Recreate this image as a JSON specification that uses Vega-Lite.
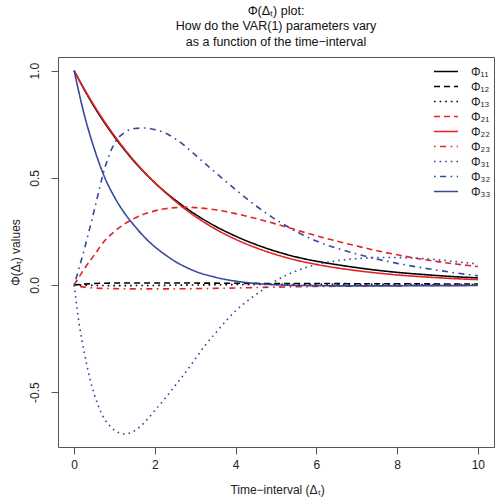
{
  "$schema": "https://vega.github.io/schema/vega-lite/v6.json",
  "width": 436,
  "height": 390,
  "autosize": "none",
  "padding": {"left": 58, "top": 57, "right": 1, "bottom": 53},
  "title": {
    "text": ["Φ(Δₜ) plot:", "How do the VAR(1) parameters vary", "as a function of the time−interval"],
    "fontSize": 12.5,
    "fontWeight": "normal",
    "font": "Liberation Sans",
    "lineHeight": 15.5,
    "anchor": "middle",
    "frame": "group",
    "offset": 9,
    "color": "#111"
  },
  "config": {
    "view": {"stroke": "#555", "strokeWidth": 1},
    "font": "Liberation Sans",
    "axis": {
      "domain": false,
      "grid": false,
      "tickSize": 7,
      "tickColor": "#555",
      "tickWidth": 1,
      "labelFontSize": 12,
      "labelColor": "#222",
      "labelFont": "Liberation Sans",
      "titleFont": "Liberation Sans",
      "titleFontSize": 12,
      "titleFontWeight": "normal",
      "titleColor": "#222",
      "labelFlush": false,
      "labelOverlap": false
    }
  },
  "data": {
    "values": [
      {"series": "Φ₁₁", "t": 0, "v": 1}, {"series": "Φ₁₁", "t": 0.25, "v": 0.912}, {"series": "Φ₁₁", "t": 0.5, "v": 0.831}, {"series": "Φ₁₁", "t": 0.75, "v": 0.758}, {"series": "Φ₁₁", "t": 1, "v": 0.691}, {"series": "Φ₁₁", "t": 1.25, "v": 0.63}, {"series": "Φ₁₁", "t": 1.5, "v": 0.574}, {"series": "Φ₁₁", "t": 1.75, "v": 0.523}, {"series": "Φ₁₁", "t": 2, "v": 0.477}, {"series": "Φ₁₁", "t": 2.25, "v": 0.435}, {"series": "Φ₁₁", "t": 2.5, "v": 0.397}, {"series": "Φ₁₁", "t": 2.75, "v": 0.362}, {"series": "Φ₁₁", "t": 3, "v": 0.33}, {"series": "Φ₁₁", "t": 3.5, "v": 0.274}, {"series": "Φ₁₁", "t": 4, "v": 0.228}, {"series": "Φ₁₁", "t": 4.5, "v": 0.189}, {"series": "Φ₁₁", "t": 5, "v": 0.157}, {"series": "Φ₁₁", "t": 5.5, "v": 0.131}, {"series": "Φ₁₁", "t": 6, "v": 0.111}, {"series": "Φ₁₁", "t": 6.5, "v": 0.095}, {"series": "Φ₁₁", "t": 7, "v": 0.081}, {"series": "Φ₁₁", "t": 7.5, "v": 0.069}, {"series": "Φ₁₁", "t": 8, "v": 0.059}, {"series": "Φ₁₁", "t": 8.5, "v": 0.051}, {"series": "Φ₁₁", "t": 9, "v": 0.044}, {"series": "Φ₁₁", "t": 9.5, "v": 0.038}, {"series": "Φ₁₁", "t": 10, "v": 0.033},

      {"series": "Φ₁₂", "t": 0, "v": 0}, {"series": "Φ₁₂", "t": 0.25, "v": 0.004}, {"series": "Φ₁₂", "t": 0.5, "v": 0.007}, {"series": "Φ₁₂", "t": 1, "v": 0.009}, {"series": "Φ₁₂", "t": 1.5, "v": 0.009}, {"series": "Φ₁₂", "t": 2, "v": 0.009}, {"series": "Φ₁₂", "t": 3, "v": 0.009}, {"series": "Φ₁₂", "t": 4, "v": 0.008}, {"series": "Φ₁₂", "t": 5, "v": 0.007}, {"series": "Φ₁₂", "t": 6, "v": 0.007}, {"series": "Φ₁₂", "t": 7, "v": 0.006}, {"series": "Φ₁₂", "t": 8, "v": 0.006}, {"series": "Φ₁₂", "t": 9, "v": 0.005}, {"series": "Φ₁₂", "t": 10, "v": 0.005},

      {"series": "Φ₁₃", "t": 0, "v": 0}, {"series": "Φ₁₃", "t": 0.5, "v": -0.002}, {"series": "Φ₁₃", "t": 1, "v": -0.003}, {"series": "Φ₁₃", "t": 2, "v": -0.002}, {"series": "Φ₁₃", "t": 3, "v": 0}, {"series": "Φ₁₃", "t": 4, "v": 0.002}, {"series": "Φ₁₃", "t": 5, "v": 0.003}, {"series": "Φ₁₃", "t": 6, "v": 0.003}, {"series": "Φ₁₃", "t": 7, "v": 0.003}, {"series": "Φ₁₃", "t": 8, "v": 0.003}, {"series": "Φ₁₃", "t": 9, "v": 0.002}, {"series": "Φ₁₃", "t": 10, "v": 0.002},

      {"series": "Φ₂₁", "t": 0, "v": 0}, {"series": "Φ₂₁", "t": 0.25, "v": 0.075}, {"series": "Φ₂₁", "t": 0.5, "v": 0.14}, {"series": "Φ₂₁", "t": 0.75, "v": 0.205}, {"series": "Φ₂₁", "t": 1, "v": 0.25}, {"series": "Φ₂₁", "t": 1.25, "v": 0.285}, {"series": "Φ₂₁", "t": 1.5, "v": 0.312}, {"series": "Φ₂₁", "t": 1.75, "v": 0.332}, {"series": "Φ₂₁", "t": 2, "v": 0.346}, {"series": "Φ₂₁", "t": 2.25, "v": 0.356}, {"series": "Φ₂₁", "t": 2.5, "v": 0.361}, {"series": "Φ₂₁", "t": 2.75, "v": 0.363}, {"series": "Φ₂₁", "t": 3, "v": 0.361}, {"series": "Φ₂₁", "t": 3.5, "v": 0.351}, {"series": "Φ₂₁", "t": 4, "v": 0.333}, {"series": "Φ₂₁", "t": 4.5, "v": 0.31}, {"series": "Φ₂₁", "t": 5, "v": 0.285}, {"series": "Φ₂₁", "t": 5.5, "v": 0.257}, {"series": "Φ₂₁", "t": 6, "v": 0.23}, {"series": "Φ₂₁", "t": 6.5, "v": 0.205}, {"series": "Φ₂₁", "t": 7, "v": 0.182}, {"series": "Φ₂₁", "t": 7.5, "v": 0.16}, {"series": "Φ₂₁", "t": 8, "v": 0.141}, {"series": "Φ₂₁", "t": 8.5, "v": 0.124}, {"series": "Φ₂₁", "t": 9, "v": 0.109}, {"series": "Φ₂₁", "t": 9.5, "v": 0.097}, {"series": "Φ₂₁", "t": 10, "v": 0.086},

      {"series": "Φ₂₂", "t": 0, "v": 1}, {"series": "Φ₂₂", "t": 0.25, "v": 0.915}, {"series": "Φ₂₂", "t": 0.5, "v": 0.836}, {"series": "Φ₂₂", "t": 0.75, "v": 0.763}, {"series": "Φ₂₂", "t": 1, "v": 0.696}, {"series": "Φ₂₂", "t": 1.25, "v": 0.634}, {"series": "Φ₂₂", "t": 1.5, "v": 0.577}, {"series": "Φ₂₂", "t": 1.75, "v": 0.525}, {"series": "Φ₂₂", "t": 2, "v": 0.477}, {"series": "Φ₂₂", "t": 2.25, "v": 0.433}, {"series": "Φ₂₂", "t": 2.5, "v": 0.392}, {"series": "Φ₂₂", "t": 2.75, "v": 0.354}, {"series": "Φ₂₂", "t": 3, "v": 0.32}, {"series": "Φ₂₂", "t": 3.5, "v": 0.261}, {"series": "Φ₂₂", "t": 4, "v": 0.213}, {"series": "Φ₂₂", "t": 4.5, "v": 0.174}, {"series": "Φ₂₂", "t": 5, "v": 0.142}, {"series": "Φ₂₂", "t": 5.5, "v": 0.116}, {"series": "Φ₂₂", "t": 6, "v": 0.096}, {"series": "Φ₂₂", "t": 6.5, "v": 0.08}, {"series": "Φ₂₂", "t": 7, "v": 0.067}, {"series": "Φ₂₂", "t": 7.5, "v": 0.056}, {"series": "Φ₂₂", "t": 8, "v": 0.047}, {"series": "Φ₂₂", "t": 8.5, "v": 0.04}, {"series": "Φ₂₂", "t": 9, "v": 0.034}, {"series": "Φ₂₂", "t": 9.5, "v": 0.029}, {"series": "Φ₂₂", "t": 10, "v": 0.025},

      {"series": "Φ₂₃", "t": 0, "v": 0}, {"series": "Φ₂₃", "t": 0.25, "v": -0.01}, {"series": "Φ₂₃", "t": 0.5, "v": -0.014}, {"series": "Φ₂₃", "t": 1, "v": -0.017}, {"series": "Φ₂₃", "t": 1.5, "v": -0.018}, {"series": "Φ₂₃", "t": 2, "v": -0.018}, {"series": "Φ₂₃", "t": 3, "v": -0.017}, {"series": "Φ₂₃", "t": 4, "v": -0.014}, {"series": "Φ₂₃", "t": 5, "v": -0.01}, {"series": "Φ₂₃", "t": 6, "v": -0.007}, {"series": "Φ₂₃", "t": 7, "v": -0.005}, {"series": "Φ₂₃", "t": 8, "v": -0.003}, {"series": "Φ₂₃", "t": 9, "v": -0.002}, {"series": "Φ₂₃", "t": 10, "v": -0.001},

      {"series": "Φ₃₁", "t": 0, "v": 0}, {"series": "Φ₃₁", "t": 0.05, "v": -0.075}, {"series": "Φ₃₁", "t": 0.1, "v": -0.15}, {"series": "Φ₃₁", "t": 0.2, "v": -0.265}, {"series": "Φ₃₁", "t": 0.3, "v": -0.36}, {"series": "Φ₃₁", "t": 0.4, "v": -0.444}, {"series": "Φ₃₁", "t": 0.5, "v": -0.51}, {"series": "Φ₃₁", "t": 0.6, "v": -0.565}, {"series": "Φ₃₁", "t": 0.75, "v": -0.625}, {"series": "Φ₃₁", "t": 0.9, "v": -0.66}, {"series": "Φ₃₁", "t": 1, "v": -0.678}, {"series": "Φ₃₁", "t": 1.25, "v": -0.695}, {"series": "Φ₃₁", "t": 1.5, "v": -0.68}, {"series": "Φ₃₁", "t": 1.75, "v": -0.64}, {"series": "Φ₃₁", "t": 2, "v": -0.585}, {"series": "Φ₃₁", "t": 2.25, "v": -0.53}, {"series": "Φ₃₁", "t": 2.5, "v": -0.47}, {"series": "Φ₃₁", "t": 2.75, "v": -0.41}, {"series": "Φ₃₁", "t": 3, "v": -0.345}, {"series": "Φ₃₁", "t": 3.25, "v": -0.28}, {"series": "Φ₃₁", "t": 3.5, "v": -0.225}, {"series": "Φ₃₁", "t": 3.75, "v": -0.17}, {"series": "Φ₃₁", "t": 4, "v": -0.12}, {"series": "Φ₃₁", "t": 4.25, "v": -0.08}, {"series": "Φ₃₁", "t": 4.5, "v": -0.045}, {"series": "Φ₃₁", "t": 4.75, "v": -0.012}, {"series": "Φ₃₁", "t": 5, "v": 0.02}, {"series": "Φ₃₁", "t": 5.5, "v": 0.065}, {"series": "Φ₃₁", "t": 6, "v": 0.095}, {"series": "Φ₃₁", "t": 6.5, "v": 0.113}, {"series": "Φ₃₁", "t": 7, "v": 0.123}, {"series": "Φ₃₁", "t": 7.5, "v": 0.128}, {"series": "Φ₃₁", "t": 8, "v": 0.128}, {"series": "Φ₃₁", "t": 8.5, "v": 0.125}, {"series": "Φ₃₁", "t": 9, "v": 0.118}, {"series": "Φ₃₁", "t": 9.5, "v": 0.108}, {"series": "Φ₃₁", "t": 10, "v": 0.098},

      {"series": "Φ₃₂", "t": 0, "v": 0}, {"series": "Φ₃₂", "t": 0.25, "v": 0.165}, {"series": "Φ₃₂", "t": 0.5, "v": 0.35}, {"series": "Φ₃₂", "t": 0.75, "v": 0.54}, {"series": "Φ₃₂", "t": 1, "v": 0.662}, {"series": "Φ₃₂", "t": 1.25, "v": 0.712}, {"series": "Φ₃₂", "t": 1.5, "v": 0.73}, {"series": "Φ₃₂", "t": 1.75, "v": 0.733}, {"series": "Φ₃₂", "t": 2, "v": 0.725}, {"series": "Φ₃₂", "t": 2.25, "v": 0.71}, {"series": "Φ₃₂", "t": 2.5, "v": 0.683}, {"series": "Φ₃₂", "t": 2.75, "v": 0.648}, {"series": "Φ₃₂", "t": 3, "v": 0.607}, {"series": "Φ₃₂", "t": 3.5, "v": 0.525}, {"series": "Φ₃₂", "t": 4, "v": 0.445}, {"series": "Φ₃₂", "t": 4.5, "v": 0.37}, {"series": "Φ₃₂", "t": 5, "v": 0.305}, {"series": "Φ₃₂", "t": 5.5, "v": 0.25}, {"series": "Φ₃₂", "t": 6, "v": 0.205}, {"series": "Φ₃₂", "t": 6.5, "v": 0.172}, {"series": "Φ₃₂", "t": 7, "v": 0.145}, {"series": "Φ₃₂", "t": 7.5, "v": 0.121}, {"series": "Φ₃₂", "t": 8, "v": 0.101}, {"series": "Φ₃₂", "t": 8.5, "v": 0.084}, {"series": "Φ₃₂", "t": 9, "v": 0.069}, {"series": "Φ₃₂", "t": 9.5, "v": 0.055}, {"series": "Φ₃₂", "t": 10, "v": 0.043},

      {"series": "Φ₃₃", "t": 0, "v": 1}, {"series": "Φ₃₃", "t": 0.25, "v": 0.795}, {"series": "Φ₃₃", "t": 0.5, "v": 0.635}, {"series": "Φ₃₃", "t": 0.75, "v": 0.505}, {"series": "Φ₃₃", "t": 1, "v": 0.41}, {"series": "Φ₃₃", "t": 1.25, "v": 0.335}, {"series": "Φ₃₃", "t": 1.5, "v": 0.275}, {"series": "Φ₃₃", "t": 1.75, "v": 0.222}, {"series": "Φ₃₃", "t": 2, "v": 0.178}, {"series": "Φ₃₃", "t": 2.25, "v": 0.142}, {"series": "Φ₃₃", "t": 2.5, "v": 0.11}, {"series": "Φ₃₃", "t": 2.75, "v": 0.085}, {"series": "Φ₃₃", "t": 3, "v": 0.064}, {"series": "Φ₃₃", "t": 3.5, "v": 0.036}, {"series": "Φ₃₃", "t": 4, "v": 0.018}, {"series": "Φ₃₃", "t": 4.5, "v": 0.007}, {"series": "Φ₃₃", "t": 5, "v": 0.001}, {"series": "Φ₃₃", "t": 5.5, "v": -0.002}, {"series": "Φ₃₃", "t": 6, "v": -0.003}, {"series": "Φ₃₃", "t": 6.5, "v": -0.004}, {"series": "Φ₃₃", "t": 7, "v": -0.004}, {"series": "Φ₃₃", "t": 7.5, "v": -0.004}, {"series": "Φ₃₃", "t": 8, "v": -0.004}, {"series": "Φ₃₃", "t": 8.5, "v": -0.003}, {"series": "Φ₃₃", "t": 9, "v": -0.003}, {"series": "Φ₃₃", "t": 9.5, "v": -0.003}, {"series": "Φ₃₃", "t": 10, "v": -0.002}
    ]
  },
  "mark": {"type": "line", "interpolate": "monotone", "strokeWidth": 1.6, "strokeCap": "butt"},
  "encoding": {
    "x": {
      "field": "t",
      "type": "quantitative",
      "scale": {"domain": [-0.4, 10.4], "nice": false, "zero": false},
      "axis": {
        "values": [0, 2, 4, 6, 8, 10],
        "labelPadding": 5,
        "title": "Time−interval (Δₜ)",
        "titleX": 219,
        "titleY": 42,
        "titleAlign": "center",
        "titleBaseline": "middle",
        "titleAngle": 0
      }
    },
    "y": {
      "field": "v",
      "type": "quantitative",
      "scale": {"domain": [-0.756, 1.064], "nice": false, "zero": false},
      "axis": {
        "values": [-0.5, 0, 0.5, 1],
        "labelExpr": "replace(format(datum.value, '.1f'), '−', '-')",
        "labelAngle": 270,
        "labelAlign": "center",
        "labelBaseline": "bottom",
        "labelPadding": 10,
        "title": "Φ(Δₜ) values",
        "titleAngle": 270,
        "titleX": -43,
        "titleY": 195,
        "titleAlign": "center",
        "titleBaseline": "middle"
      }
    },
    "color": {
      "field": "series",
      "type": "nominal",
      "scale": {
        "domain": ["Φ₁₁", "Φ₁₂", "Φ₁₃", "Φ₂₁", "Φ₂₂", "Φ₂₃", "Φ₃₁", "Φ₃₂", "Φ₃₃"],
        "range": ["#000000", "#000000", "#000000", "#e52125", "#e52125", "#e52125", "#34499b", "#34499b", "#34499b"]
      },
      "legend": {
        "title": null,
        "orient": "none",
        "legendX": 379.5,
        "legendY": 6,
        "symbolType": "M-1.6,0L1.6,0",
        "symbolSize": 225,
        "symbolStrokeWidth": 1.6,
        "labelFontSize": 12,
        "labelFont": "Liberation Sans",
        "labelColor": "#222",
        "labelOffset": 16.5,
        "rowPadding": 0
      }
    },
    "strokeDash": {
      "field": "series",
      "type": "nominal",
      "scale": {
        "domain": ["Φ₁₁", "Φ₁₂", "Φ₁₃", "Φ₂₁", "Φ₂₂", "Φ₂₃", "Φ₃₁", "Φ₃₂", "Φ₃₃"],
        "range": [[1, 0], [6, 4], [1.6, 4], [6, 4], [1, 0], [1.6, 4.5, 6, 4.5], [1.6, 4], [1.6, 4.5, 6, 4.5], [1, 0]]
      }
    }
  }
}
